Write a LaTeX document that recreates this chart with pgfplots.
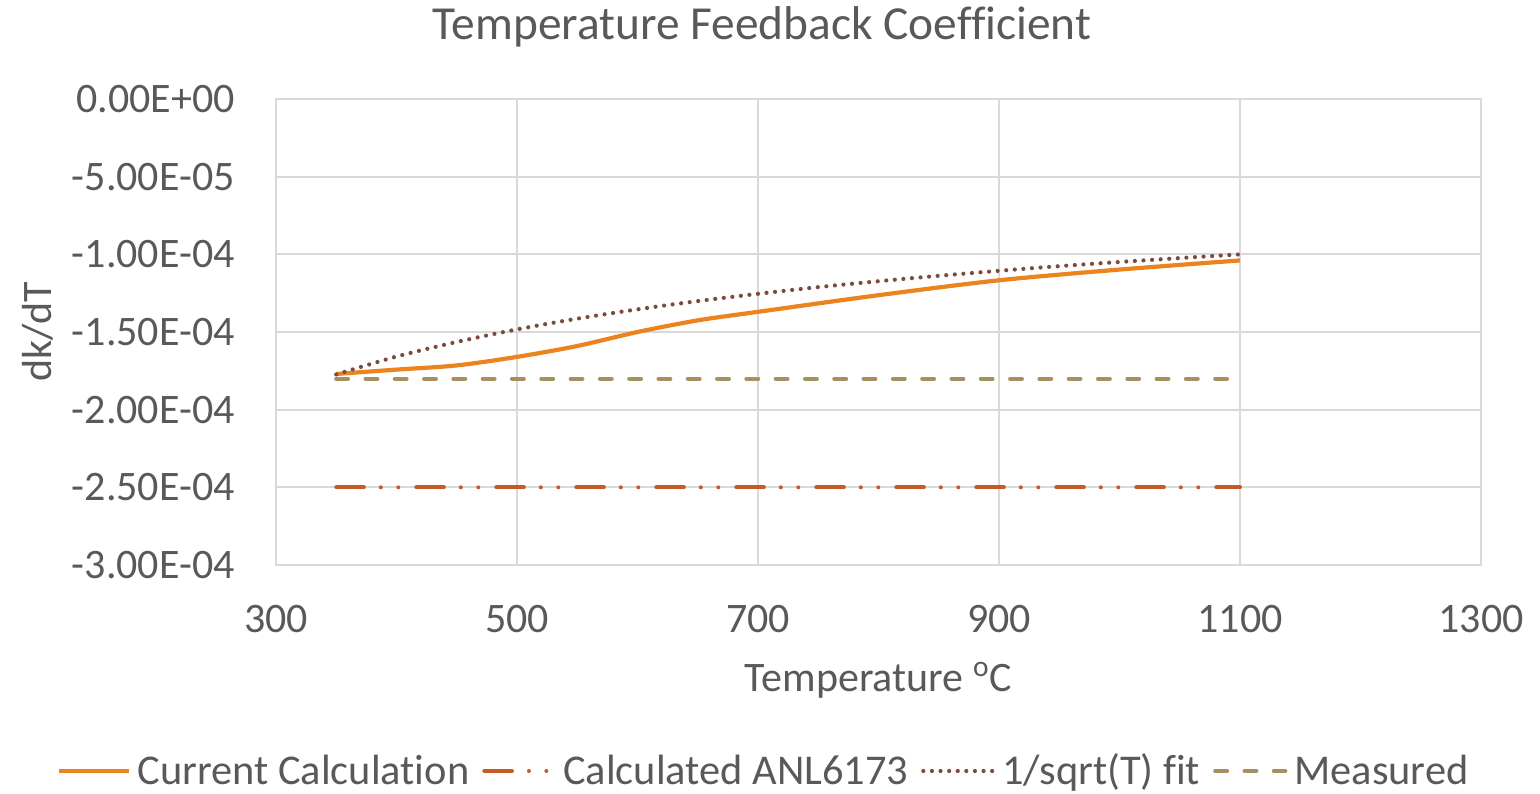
\documentclass[border=0pt]{standalone}
\usepackage{fontspec}
\setmainfont{Carlito}[Ligatures={NoCommon}]
\usepackage{pgfplots}
\pgfplotsset{compat=1.18}
\definecolor{txt}{HTML}{595959}
\definecolor{gridc}{HTML}{D9D9D9}
\definecolor{curcalc}{HTML}{EB841F}
\definecolor{anl}{HTML}{C45A26}
\definecolor{fitc}{HTML}{7E4B3B}
\definecolor{meas}{HTML}{A69060}
\begin{document}
\begin{tikzpicture}
\useasboundingbox (0,0) rectangle (770pt,-396.5pt);
\begin{axis}[
  at={(138pt,-282.5pt)}, anchor=south west,
  scale only axis, width=602.5pt, height=233pt,
  xmin=300, xmax=1300, ymin=-0.0003, ymax=0,
  xtick={300,500,700,900,1100,1300},
  xticklabels={300,500,700,900,1100,1300},
  ytick={-0.0003,-0.00025,-0.0002,-0.00015,-0.0001,-0.00005,0},
  yticklabels={-3.00E-04,-2.50E-04,-2.00E-04,-1.50E-04,-1.00E-04,-5.00E-05,0.00E+00},
  scaled y ticks=false, scaled x ticks=false,
  grid=major, major grid style={color=gridc, line width=1.1pt},
  axis line style={gridc, line width=1.1pt},
  tick style={draw=none},
  ticklabel style={font=\fontsize{21}{25}\selectfont, text=txt, inner sep=0pt},
  yticklabel shift=20.5pt, xticklabel shift=20pt,
  title={Temperature Feedback Coefficient},
  title style={at={(axis description cs:0.4033,1.1288)}, anchor=center, font=\fontsize{23.7}{28}\selectfont, text=txt},
  xlabel={Temperature \textsuperscript{o}C},
  xlabel style={at={(axis description cs:0.5,-0.2468)}, anchor=center, font=\fontsize{21}{25}\selectfont, text=txt},
  ylabel={dk/dT},
  ylabel style={at={(axis description cs:-0.1975,0.5)}, anchor=center, font=\fontsize{21}{25}\selectfont, text=txt},
  legend columns=4,
  legend cell align=left,
  legend image code/.code={\draw[#1] (0pt,0pt) -- (35pt,0pt);},
  legend style={at={(axis description cs:0.4066,-0.442)}, anchor=center, draw=none, fill=none,
    font=\fontsize{21.2}{25}\selectfont, text=txt,
    nodes={inner sep=3.5pt},
    /tikz/every even column/.append style={column sep=3pt}},
]
\addplot[curcalc, line width=2.1pt, smooth] coordinates {
(350,-1.770e-4) (400,-1.742e-4) (450,-1.715e-4) (500,-1.660e-4) (550,-1.590e-4)
(600,-1.500e-4) (650,-1.425e-4) (700,-1.370e-4) (800,-1.263e-4) (900,-1.167e-4)
(1000,-1.098e-4) (1100,-1.039e-4)};
\addlegendentry{Current Calculation}
\addplot[anl, line width=2pt, line cap=round, dash pattern=on 13.8pt off 8.5pt on 0pt off 8.7pt on 0pt off 9pt] coordinates {
(350,-2.5e-4) (1100,-2.5e-4)};
\addlegendentry{Calculated ANL6173}
\addplot[fitc, line width=2.1pt, line cap=round, dash pattern=on 0pt off 4.3pt, smooth] coordinates {
(350,-1.773e-4) (400,-1.658e-4) (450,-1.564e-4) (500,-1.483e-4) (550,-1.414e-4)
(600,-1.354e-4) (650,-1.301e-4) (700,-1.254e-4) (750,-1.211e-4) (800,-1.173e-4)
(850,-1.138e-4) (900,-1.106e-4) (950,-1.076e-4) (1000,-1.049e-4) (1050,-1.024e-4)
(1100,-1.000e-4)};
\addlegendentry{1/sqrt(T) fit}
\addplot[meas, line width=2.1pt, line cap=round, dash pattern=on 5.85pt off 8.8pt] coordinates {
(350,-1.8e-4) (1100,-1.8e-4)};
\addlegendentry{Measured}
\end{axis}
\end{tikzpicture}
\end{document}
